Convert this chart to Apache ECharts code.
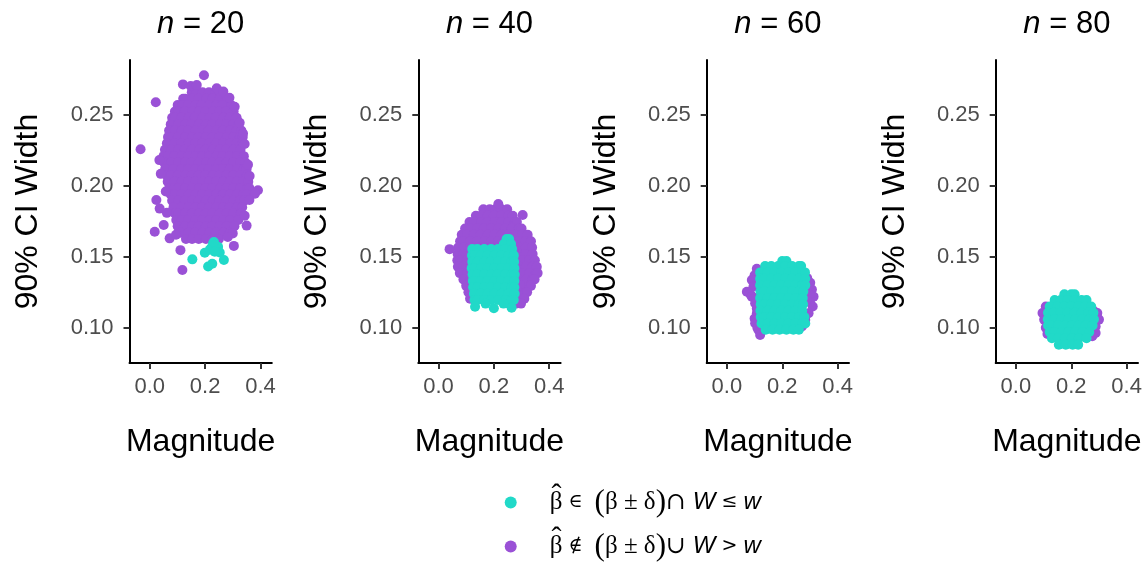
<!DOCTYPE html>
<html><head><meta charset="utf-8">
<script src="https://cdn.jsdelivr.net/npm/echarts@6/dist/echarts.min.js"></script>
<style>html,body{margin:0;padding:0;background:#fff}#c{width:1148px;height:563px}</style>
</head><body><div id="c"></div>
<script>
// ---------- data ----------
const nValues = [20, 40, 60, 80];
const xTicks = [0, 0.2, 0.4];
const yTicks = [0.10, 0.15, 0.20, 0.25];

// rows: [y, [x, x, ...]] ; extra: [x, y]
const out20Rows = [
[0.266,[0.152,0.168,0.191,0.214,0.238,0.251]],
[0.2615,[0.121,0.129,0.153,0.176,0.204,0.226,0.253,0.279]],
[0.257,[0.101,0.117,0.139,0.166,0.188,0.216,0.241,0.263,0.294]],
[0.2525,[0.091,0.103,0.127,0.154,0.178,0.201,0.229,0.251,0.276,0.303]],
[0.248,[0.081,0.092,0.114,0.141,0.163,0.19,0.216,0.239,0.266,0.289,0.314]],
[0.2435,[0.076,0.103,0.128,0.151,0.178,0.203,0.226,0.254,0.277,0.301,0.321]],
[0.239,[0.07,0.091,0.116,0.139,0.166,0.191,0.213,0.241,0.264,0.29,0.314,0.331]],
[0.2345,[0.066,0.079,0.102,0.128,0.153,0.176,0.203,0.227,0.252,0.279,0.302,0.326,0.336]],
[0.23,[0.062,0.09,0.114,0.141,0.164,0.19,0.216,0.239,0.265,0.291,0.314,0.336]],
[0.2255,[0.055,0.078,0.103,0.127,0.152,0.179,0.202,0.228,0.253,0.276,0.303,0.328]],
[0.221,[0.05,0.066,0.089,0.116,0.14,0.166,0.189,0.215,0.241,0.264,0.29,0.316,0.34]],
[0.2165,[0.052,0.077,0.103,0.128,0.151,0.177,0.204,0.226,0.252,0.278,0.301,0.327,0.346]],
[0.212,[0.056,0.087,0.114,0.14,0.166,0.19,0.214,0.241,0.265,0.289,0.316,0.34,0.35]],
[0.2075,[0.061,0.078,0.102,0.129,0.152,0.177,0.201,0.228,0.253,0.276,0.302,0.328,0.351]],
[0.203,[0.065,0.09,0.116,0.139,0.165,0.191,0.214,0.24,0.266,0.29,0.315,0.339,0.356]],
[0.1985,[0.071,0.088,0.104,0.128,0.153,0.178,0.202,0.226,0.254,0.277,0.303,0.327,0.353,0.36]],
[0.194,[0.076,0.09,0.115,0.141,0.165,0.189,0.216,0.24,0.264,0.29,0.315,0.338,0.35]],
[0.1895,[0.081,0.103,0.127,0.153,0.177,0.203,0.228,0.251,0.278,0.302,0.326,0.341]],
[0.185,[0.086,0.115,0.14,0.166,0.19,0.214,0.241,0.265,0.289,0.315,0.334]],
[0.1805,[0.091,0.103,0.128,0.152,0.178,0.202,0.227,0.253,0.277,0.302,0.329]],
[0.176,[0.096,0.116,0.139,0.164,0.19,0.216,0.24,0.265,0.29,0.32]],
[0.1715,[0.101,0.127,0.153,0.177,0.203,0.226,0.252,0.278,0.306]],
[0.167,[0.111,0.14,0.164,0.19,0.215,0.239,0.266,0.289]],
[0.1625,[0.131,0.153,0.177,0.203,0.227,0.25]]
];
const out20Extra = [[0.196,0.278],[0.12,0.2716],[0.022,0.259],[-0.033,0.2258],[0.242,0.2688],[0.266,0.2665],[0.288,0.2622],[0.307,0.2558],[0.325,0.2446],[0.337,0.237],[0.343,0.2295],[0.035,0.2182],[0.04,0.2085],[0.355,0.215],[0.361,0.207],[0.391,0.197],[0.38,0.1945],[0.024,0.19],[0.036,0.184],[0.062,0.181],[0.343,0.179],[0.35,0.172],[0.0181,0.1677],[0.0506,0.1724],[0.072,0.163],[0.3,0.1665],[0.282,0.164],[0.304,0.1577],[0.111,0.1547],[0.118,0.1407],[0.095,0.1655],[0.058,0.196],[0.36,0.19],[0.148,0.2705],[0.17,0.2712]];
const in20Extra = [[0.229,0.1595],[0.238,0.1578],[0.247,0.157],[0.222,0.1562],[0.199,0.1529],[0.217,0.155],[0.253,0.153],[0.268,0.1477],[0.154,0.1482],[0.211,0.1432],[0.226,0.1451],[0.235,0.1535],[0.232,0.1605]];

const out40Rows = [
[0.1835,[0.162,0.185,0.205,0.228,0.248]],
[0.179,[0.135,0.153,0.178,0.2,0.226,0.252,0.268]],
[0.1745,[0.112,0.128,0.154,0.177,0.203,0.227,0.252,0.276,0.283]],
[0.17,[0.096,0.116,0.141,0.164,0.19,0.216,0.24,0.265,0.29,0.3]],
[0.1655,[0.084,0.103,0.128,0.152,0.178,0.202,0.228,0.253,0.277,0.302,0.322]],
[0.161,[0.078,0.09,0.115,0.14,0.166,0.19,0.215,0.239,0.265,0.29,0.314,0.334]],
[0.1565,[0.071,0.092,0.114,0.14,0.165,0.19,0.215,0.24,0.265,0.29,0.315,0.338]],
[0.152,[0.069,0.09,0.115,0.138,0.265,0.29,0.315,0.34]],
[0.1475,[0.068,0.078,0.103,0.128,0.278,0.302,0.327,0.348]],
[0.143,[0.07,0.09,0.115,0.14,0.265,0.29,0.315,0.34,0.355]],
[0.1385,[0.077,0.103,0.128,0.278,0.302,0.327,0.352,0.358]],
[0.134,[0.09,0.115,0.14,0.265,0.29,0.315,0.34,0.347]],
[0.1295,[0.1,0.127,0.278,0.302,0.327,0.334]],
[0.125,[0.108,0.132,0.265,0.29,0.315,0.32]],
[0.1205,[0.114,0.14,0.26,0.285,0.31]],
[0.117,[0.255,0.28,0.298]]
];
const out40Extra = [[0.216,0.1872],[0.304,0.1795],[0.04,0.1554]];
const in40Rows = [
[0.1625,[0.246,0.255]],
[0.159,[0.236,0.262]],
[0.1555,[0.122,0.14,0.165,0.19,0.215,0.24,0.266]],
[0.151,[0.121,0.131,0.153,0.177,0.203,0.227,0.253,0.272]],
[0.1465,[0.122,0.141,0.166,0.189,0.215,0.241,0.264,0.273]],
[0.142,[0.12,0.129,0.153,0.178,0.202,0.228,0.252,0.274]],
[0.1375,[0.123,0.14,0.165,0.191,0.214,0.24,0.265,0.275]],
[0.133,[0.124,0.129,0.153,0.177,0.203,0.226,0.252,0.274]],
[0.1285,[0.125,0.141,0.166,0.19,0.215,0.241,0.264,0.274]],
[0.124,[0.128,0.153,0.178,0.202,0.228,0.252,0.275]],
[0.1195,[0.13,0.141,0.166,0.19,0.215,0.241,0.264,0.272]]
];
const in40Extra = [[0.132,0.1148],[0.2,0.1137],[0.264,0.1141],[0.17,0.117],[0.235,0.117]];

const out60Extra = [[0.108,0.1415],[0.1,0.137],[0.09,0.1336],[0.096,0.129],[0.072,0.1254],[0.085,0.1235],[0.09,0.1219],[0.1,0.121],[0.102,0.1172],[0.108,0.1135],[0.108,0.1102],[0.1,0.1065],[0.102,0.1031],[0.11,0.1],[0.114,0.0984],[0.12,0.0949],[0.29,0.135],[0.301,0.1317],[0.307,0.127],[0.313,0.1219],[0.3,0.123],[0.31,0.115],[0.3,0.118],[0.295,0.1102],[0.283,0.1055],[0.271,0.1008],[0.289,0.1195],[0.29,0.128]];
const in60Rows = [
[0.147,[0.2,0.215]],
[0.1435,[0.138,0.16,0.185,0.21,0.235,0.26,0.268]],
[0.139,[0.12,0.147,0.172,0.197,0.222,0.247,0.272,0.282]],
[0.1345,[0.12,0.135,0.16,0.185,0.21,0.235,0.26,0.283]],
[0.13,[0.12,0.147,0.172,0.197,0.222,0.247,0.272,0.283]],
[0.1255,[0.121,0.135,0.16,0.185,0.21,0.235,0.26,0.276]],
[0.121,[0.12,0.147,0.172,0.197,0.222,0.247,0.274]],
[0.1165,[0.122,0.135,0.16,0.185,0.21,0.235,0.26,0.275]],
[0.112,[0.121,0.147,0.172,0.197,0.222,0.247,0.272]],
[0.1075,[0.122,0.135,0.16,0.185,0.21,0.235,0.26,0.28]],
[0.103,[0.125,0.147,0.172,0.197,0.222,0.247,0.272,0.283]],
[0.0985,[0.14,0.165,0.19,0.215,0.24,0.26]]
];

const out80Extra = [[0.096,0.1104],[0.108,0.1149],[0.102,0.1057],[0.108,0.1],[0.114,0.0955],[0.12,0.098],[0.294,0.107],[0.294,0.1104],[0.288,0.0963],[0.276,0.094],[0.288,0.1008],[0.282,0.1116],[0.3,0.1057]];
const in80Rows = [
[0.1235,[0.175,0.2,0.212]],
[0.1195,[0.14,0.162,0.187,0.212,0.237,0.255]],
[0.115,[0.122,0.15,0.175,0.2,0.225,0.25,0.272]],
[0.1105,[0.116,0.137,0.162,0.187,0.212,0.237,0.262,0.28]],
[0.106,[0.115,0.14,0.165,0.19,0.215,0.24,0.265,0.282]],
[0.1015,[0.116,0.127,0.152,0.177,0.202,0.227,0.252,0.277]],
[0.097,[0.122,0.14,0.165,0.19,0.215,0.24,0.265]],
[0.0925,[0.13,0.152,0.177,0.202,0.227,0.255]],
[0.088,[0.155,0.18,0.205,0.225]]
];

// ---------- build ----------
function pts(rows, extra){ const o=[]; (rows||[]).forEach(r=>r[1].forEach(x=>o.push([x,r[0]]))); return o.concat(extra||[]); }
const outData = [pts(out20Rows,out20Extra), pts(out40Rows,out40Extra), pts(null,out60Extra), pts(null,out80Extra)];
const inData  = [pts(null,in20Extra), pts(in40Rows,in40Extra), pts(in60Rows,null), pts(in80Rows,null)];

const TEAL = '#21D9C8', PURPLE = '#9A51D6';
const SANS = "'Liberation Sans', Arial, sans-serif";
const SERIF = "'Liberation Serif', 'DejaVu Serif', serif";
const gridLefts = [129.5, 418.3, 706.7, 995.7];
const GW = 142.3, GT = 60, GH = 303;

const grids=[], xAxes=[], yAxes=[], series=[], titles=[];
gridLefts.forEach((l,i)=>{
  grids.push({left:l, top:GT, width:GW, height:GH});
  titles.push({text:'{i|n} = '+nValues[i], left:l+GW/2, top:9, textAlign:'center', padding:0,
    textStyle:{fontSize:31, fontWeight:'normal', color:'#000', fontFamily:SANS,
      rich:{i:{fontStyle:'italic', fontSize:31, fontFamily:SANS, color:'#000'}}}});
  xAxes.push({type:'value', gridIndex:i, min:-0.073, max:0.441,
    axisLine:{show:true, onZero:false, lineStyle:{color:'#000', width:2}},
    axisTick:{show:true, length:6, customValues:xTicks, lineStyle:{color:'#333', width:2}},
    axisLabel:{customValues:xTicks, formatter:v=>v.toFixed(1), fontSize:22, color:'#4D4D4D', fontFamily:SANS, margin:13},
    splitLine:{show:false},
    name:'Magnitude', nameLocation:'middle', nameGap:63,
    nameTextStyle:{fontSize:32, color:'#000', fontFamily:SANS}});
  yAxes.push({type:'value', gridIndex:i, min:0.0751, max:0.2888,
    axisLine:{show:true, onZero:false, lineStyle:{color:'#000', width:2}},
    axisTick:{show:true, length:6, customValues:yTicks, lineStyle:{color:'#333', width:2}},
    axisLabel:{customValues:yTicks, formatter:v=>v.toFixed(2), fontSize:22, color:'#4D4D4D', fontFamily:SANS, margin:16},
    splitLine:{show:false},
    name:'90% CI Width', nameLocation:'middle', nameGap:85,
    nameTextStyle:{fontSize:32, color:'#000', fontFamily:SANS}});
  series.push({name:'out', type:'scatter', xAxisIndex:i, yAxisIndex:i, data:outData[i], symbolSize:10,
    itemStyle:{color:PURPLE, opacity:1}, silent:true});
  series.push({name:'in', type:'scatter', xAxisIndex:i, yAxisIndex:i, data:inData[i], symbolSize:10,
    itemStyle:{color:TEAL, opacity:1}, silent:true});
});

const legendText = {
  'in':  '{sp| }{b|\u03B2}{s| \u2208  }{p|(}{b|\u03B2 \u00B1 \u03B4}{p|)}{c|\u2229}{w| W}{s| \u2264 }{w|w}',
  'out': '{sp| }{b|\u03B2}{s| \u2209  }{p|(}{b|\u03B2 \u00B1 \u03B4}{p|)}{c|\u222A}{w| W}{s| > }{w|w}'
};
const hatX = 556.5, hatY = [496, 539];

const chart = echarts.init(document.getElementById('c'), null, {renderer:'canvas'});
chart.setOption({
  animation:false,
  backgroundColor:'#fff',
  title:titles,
  grid:grids, xAxis:xAxes, yAxis:yAxes, series:series,
  legend:{orient:'vertical', left:504.7, top:487, padding:0, itemWidth:12, itemHeight:12, itemGap:13,
    icon:'circle', data:['in','out'], selectedMode:false,
    formatter:n=>legendText[n],
    textStyle:{color:'#000', rich:{
      sp:{width:28, lineHeight:30},
      b:{fontFamily:SERIF, fontSize:25, lineHeight:30, color:'#000'},
      s:{fontFamily:"'DejaVu Serif', serif", fontSize:19, lineHeight:30, color:'#000'},
      p:{fontFamily:SERIF, fontSize:31, lineHeight:30, color:'#000'},
      c:{fontFamily:"'DejaVu Serif', serif", fontSize:24, lineHeight:30, color:'#000'},
      w:{fontFamily:SANS, fontStyle:'italic', fontSize:24, lineHeight:30, color:'#000'}
    }}},
  graphic: hatY.map(y=>({type:'text', x:hatX, y:y, silent:true,
    style:{text:'\u02C6', fontFamily:'Liberation Serif', fontSize:30, fill:'#000', align:'center', verticalAlign:'middle'}}))
});
</script></body></html>
